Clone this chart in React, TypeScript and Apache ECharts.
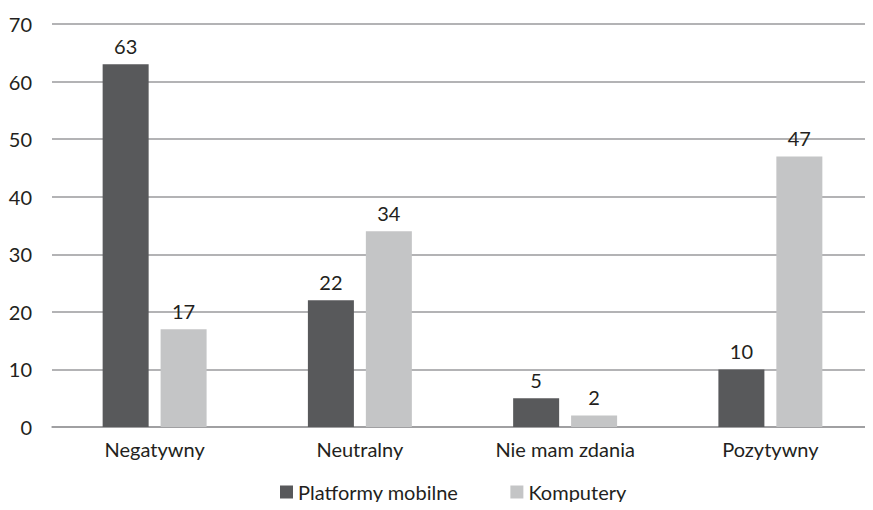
import React, { useEffect, useRef } from "react";
import * as echarts from "echarts";

const categories = ["Negatywny", "Neutralny", "Nie mam zdania", "Pozytywny"];
const seriesNames = ["Platformy mobilne", "Komputery"];
const mobile = [63, 22, 5, 10];
const computers = [17, 34, 2, 47];

const FONT = "Lato";
const TEXT = "#231f20";
const GRID = "#9a9a9c";

export default function App() {
  const ref = useRef<HTMLDivElement>(null);
  useEffect(() => {
    if (!ref.current) return;
    const chart = echarts.init(ref.current, undefined, { renderer: "svg" });
    const label = {
      show: true,
      position: "top",
      distance: 8,
      color: TEXT,
      fontFamily: FONT,
      fontSize: 20,
    };
    chart.setOption({
      animation: false,
      textStyle: { fontFamily: FONT },
      grid: { left: 52, right: 0, top: 24, bottom: 83, containLabel: false },
      legend: {
        data: seriesNames,
        top: 482,
        left: 280,
        padding: 0,
        icon: "rect",
        itemWidth: 13,
        itemHeight: 13,
        itemGap: 52,
        textStyle: { color: TEXT, fontFamily: FONT, fontSize: 20 },
      },
      xAxis: {
        type: "category",
        data: categories,
        axisTick: { show: false },
        axisLine: { lineStyle: { color: GRID, width: 1.5 } },
        axisLabel: { color: TEXT, fontFamily: FONT, fontSize: 20, margin: 12 },
      },
      yAxis: {
        type: "value",
        min: 0,
        max: 70,
        interval: 10,
        axisLine: { show: false },
        axisTick: { show: false },
        splitLine: { lineStyle: { color: GRID, width: 1.5 } },
        axisLabel: { color: TEXT, fontFamily: FONT, fontSize: 20, margin: 20 },
      },
      series: [
        {
          name: seriesNames[0],
          type: "bar",
          data: mobile,
          barWidth: 46,
          barGap: "26%",
          itemStyle: { color: "#58595b" },
          label,
        },
        {
          name: seriesNames[1],
          type: "bar",
          data: computers,
          barWidth: 46,
          barGap: "26%",
          itemStyle: { color: "#c4c5c6" },
          label,
        },
      ],
    });
    return () => chart.dispose();
  }, []);
  return <div ref={ref} style={{ width: 873, height: 510, margin: -8 }} />;
}
